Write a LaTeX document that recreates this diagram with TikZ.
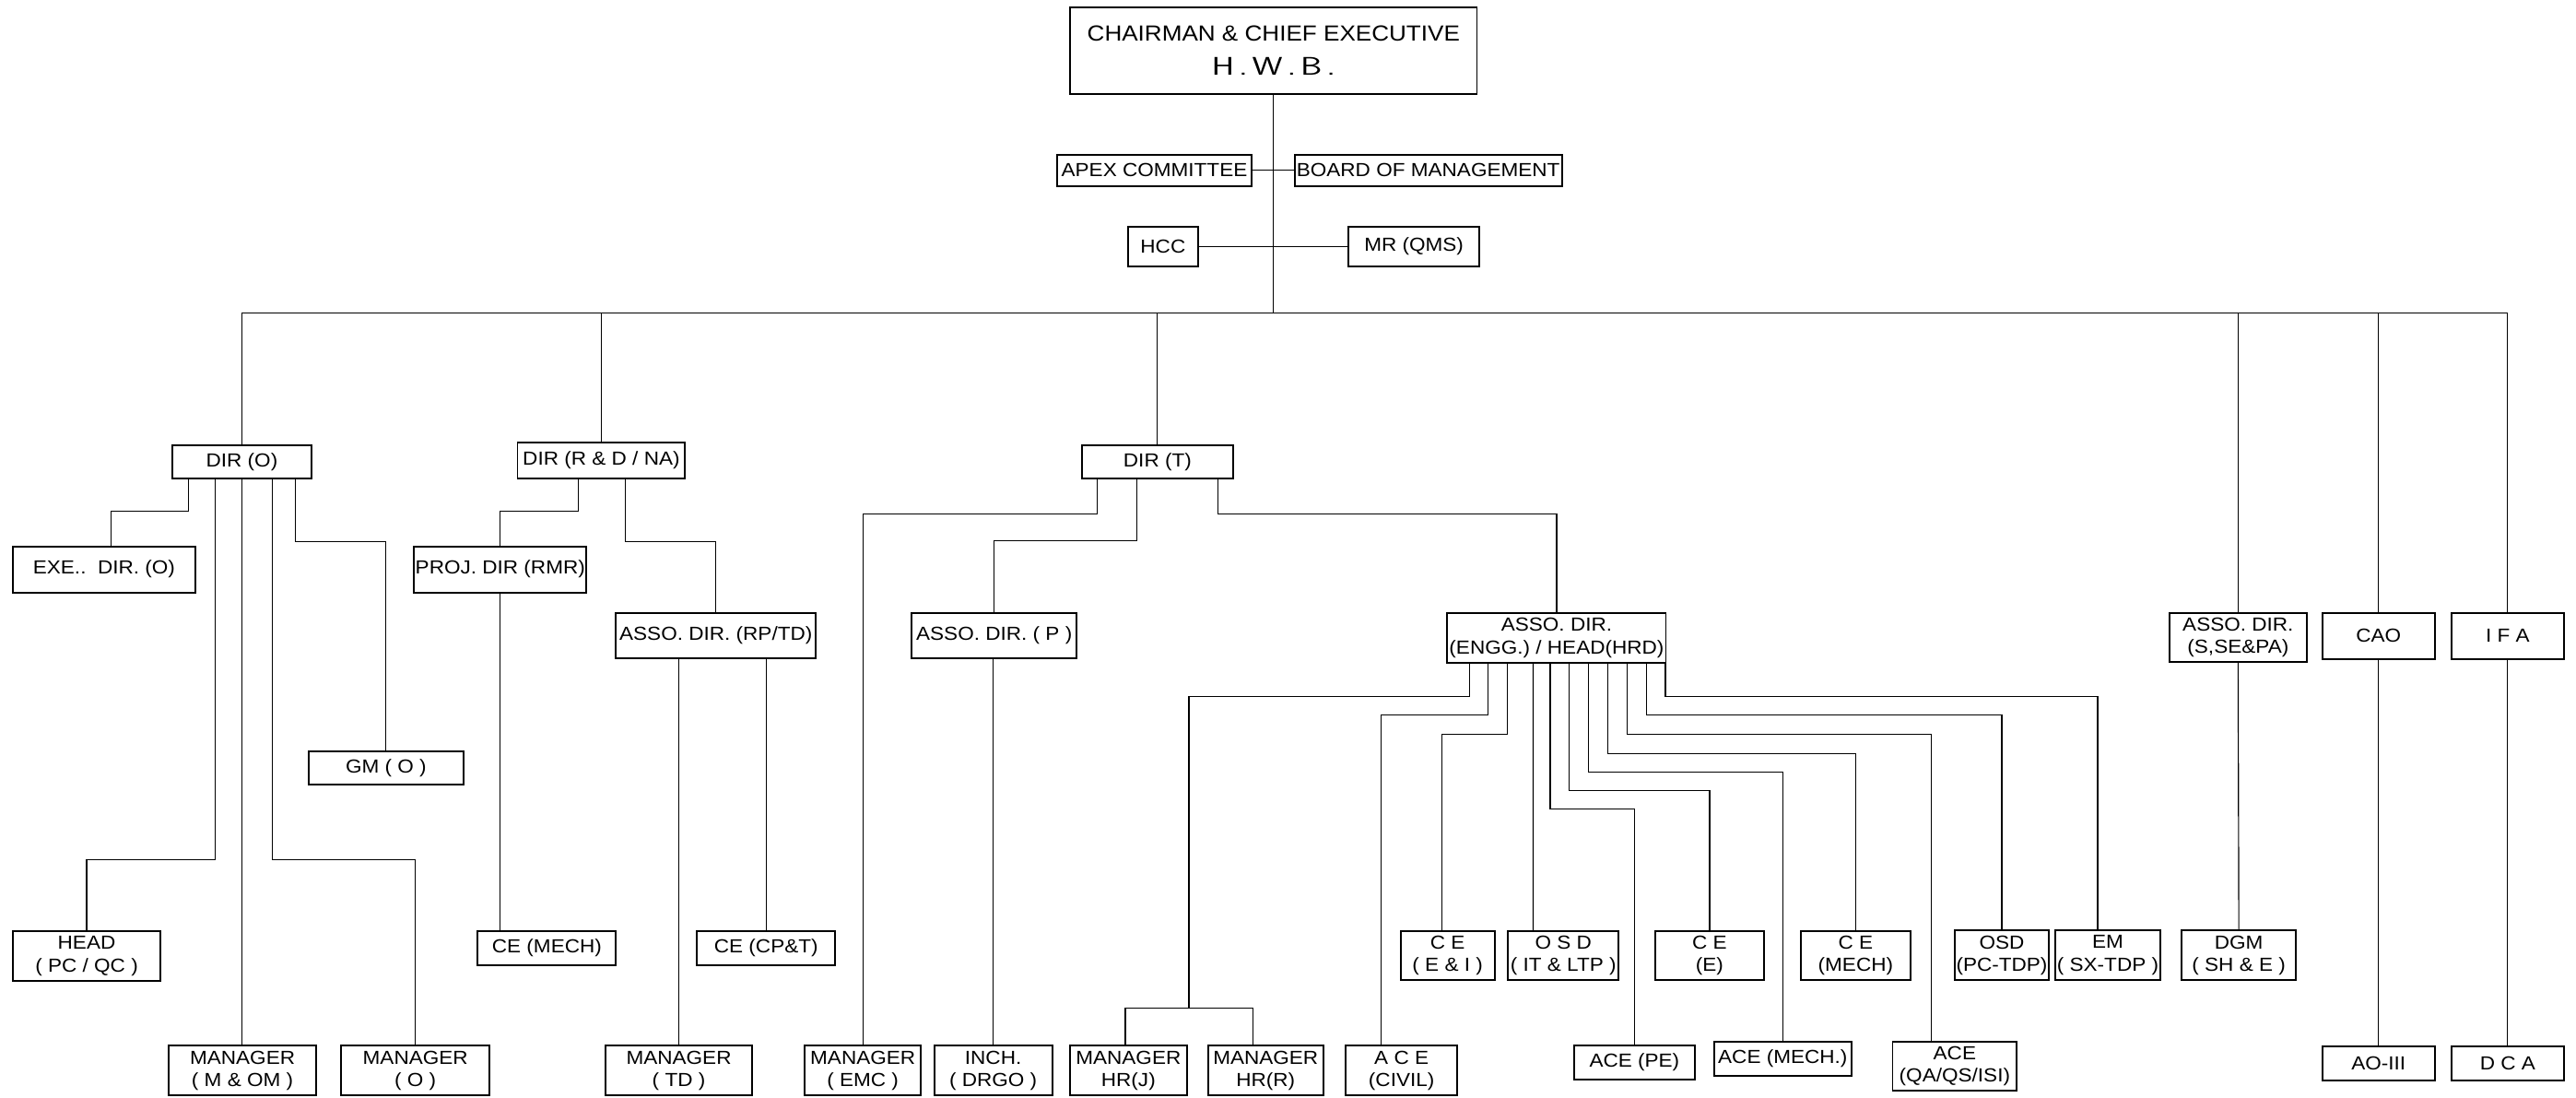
\documentclass[tikz,border=0pt]{standalone}
\usepackage{fontspec}
\usepackage{graphicx}
\setmainfont{Liberation Sans}[FakeStretch=1.1]
\usetikzlibrary{calc}
\newcommand\obx[6]{\node[ob,anchor=north west,minimum width={(#4-#2)*1bp},minimum height={(#5-#3)*1bp}] (#1) at (#2,#3) {#6};}
\tikzset{
  ob/.style={draw,line width=1.1bp,inner sep=0pt,outer sep=0pt,align=center,fill=white,
    font=\fontsize{11.5bp}{13.7bp}\selectfont},
  cn/.style={draw,line width=0.65bp}
}
\begin{document}
\begin{tikzpicture}[x=1bp,y=-1bp]
\fill[white] (0,0) rectangle (1568,668);
\useasboundingbox (0,0) rectangle (1568,668);
% top
\node[ob,anchor=north west,minimum width={(899-651.4)*1bp},minimum height={(57-4.7)*1bp},
  font=\fontsize{13.3bp}{20.6bp}\selectfont] (chair) at (651.4,4.7)
  {CHAIRMAN \& CHIEF EXECUTIVE\\{\sffamily\fontsize{15.5bp}{20.6bp}\selectfont\scalebox{1.35}[1]{H\hspace{2bp}.\hspace{2bp}W\hspace{2bp}.\hspace{2bp}B\hspace{2bp}.}}};
\obx{apex}{643.4}{94.1}{761.9}{113.1}{APEX COMMITTEE}
\obx{board}{788}{94.1}{950.7}{113.1}{BOARD OF MANAGEMENT}
\obx{hcc}{686.7}{137.8}{729.1}{162.1}{HCC}
\obx{mr}{820.8}{137.8}{900.5}{162.1}{MR (QMS)}
% level 2
\obx{dirO}{105}{270.8}{189.5}{291}{DIR (O)}
\obx{dirRD}{315}{269.3}{417}{291}{DIR (R \& D / NA)}
\obx{dirT}{658.7}{270.8}{750.4}{291}{DIR (T)}
\obx{assoS}{1320.6}{373}{1404}{402.9}{ASSO. DIR.\\(S,SE\&PA)}
\obx{cao}{1413.6}{373}{1482}{401}{CAO}
\obx{ifa}{1492.2}{373}{1560.6}{401}{I F A}
% level 3
\obx{exe}{7.7}{332.5}{119}{360.5}{EXE..\ \ DIR. (O)}
\obx{proj}{252}{332.5}{357}{360.5}{PROJ. DIR (RMR)}
\obx{assoRP}{375}{373}{496.5}{400.6}{ASSO. DIR. (RP/TD)}
\obx{assoP}{555}{373}{655.3}{400.6}{ASSO. DIR. ( P )}
\obx{assoE}{881}{373}{1014}{403.2}{ASSO. DIR.\\(ENGG.) / HEAD(HRD)}
\obx{gm}{188}{457}{282}{477.5}{GM ( O )}
% level 4
\obx{head}{7.9}{566.6}{97.6}{597}{HEAD\\( PC / QC )}
\obx{ceMech}{290.8}{566.6}{375}{587.2}{CE (MECH)}
\obx{ceCPT}{424.3}{566.6}{508.4}{587.2}{CE (CP\&T)}
\obx{ceEI}{852.5}{566.6}{909.8}{596.4}{C E\\( E \& I )}
\obx{osdIT}{918}{566.6}{985.2}{596.4}{O S D\\( IT \& LTP )}
\obx{ceE}{1007.5}{566.6}{1073.7}{596.4}{C E\\(E)}
\obx{ceM}{1096.2}{566.6}{1162.8}{596.4}{C E\\(MECH)}
\obx{osdPC}{1190}{566.3}{1247}{596.3}{OSD\\(PC-TDP)}
\obx{em}{1251}{566.3}{1315}{596.3}{EM\\( SX-TDP )}
\obx{dgm}{1327.8}{566.3}{1397.7}{596.3}{DGM\\( SH \& E )}
% level 5
\obx{mgrMOM}{102.8}{636.4}{192.4}{666.6}{MANAGER\\( M \& OM )}
\obx{mgrO}{207.8}{636.4}{297.9}{666.6}{MANAGER\\( O )}
\obx{mgrTD}{368.4}{636.4}{458}{666.6}{MANAGER\\( TD )}
\obx{mgrEMC}{490}{636.4}{560.4}{666.6}{MANAGER\\( EMC )}
\obx{inch}{568.7}{636.4}{640.4}{666.6}{INCH.\\( DRGO )}
\obx{hrJ}{651.4}{636.4}{722.3}{666.6}{MANAGER\\HR(J)}
\obx{hrR}{735.2}{636.4}{805.6}{666.6}{MANAGER\\HR(R)}
\obx{aceCivil}{819}{636.4}{887.2}{666.6}{A C E\\(CIVIL)}
\obx{acePE}{958}{636}{1031.7}{657}{ACE (PE)}
\obx{aceMech}{1043.3}{634}{1127}{654.5}{ACE (MECH.)}
\obx{aceQA}{1152}{633.7}{1227.6}{663.8}{ACE\\(QA/QS/ISI)}
\obx{ao}{1413.6}{636.8}{1482}{657.5}{AO-III}
\obx{dca}{1492.2}{636.8}{1560.6}{657.5}{D C A}
% top connectors
\coordinate (bus) at (0,190.4);
\draw[cn] (chair.south) -- (chair.south |- bus);
\draw[cn] (apex.east) -- (board.west);
\draw[cn] (hcc.east) -- (mr.west);
\draw[cn] (dirO.north) |- (ifa.north |- bus) -- (ifa.north);
\draw[cn] (dirRD.north) -- (dirRD.north |- bus);
\draw[cn] (dirT.north) -- (dirT.north |- bus);
\draw[cn] (assoS.north) -- (assoS.north |- bus);
\draw[cn] (cao.north) -- (cao.north |- bus);
% DIR (O)
\draw[cn] ([xshift=9.5bp]dirO.south west) |- ([xshift=59.8bp,yshift=21.5bp]exe.north west) -- ([xshift=59.8bp]exe.north west);
\draw[cn] ([xshift=26bp]dirO.south west) |- ([xshift=44.8bp,yshift=43.6bp]head.north west) -- ([xshift=44.8bp]head.north west);
\draw[cn] (dirO.south) -- (dirO.south |- mgrMOM.north);
\draw[cn] ([xshift=61bp]dirO.south west) |- ([yshift=113.4bp]mgrO.north) -- (mgrO.north);
\draw[cn] ([xshift=74.6bp]dirO.south west) |- ([yshift=127.5bp]gm.north) -- (gm.north);
% DIR (R&D)
\draw[cn] ([xshift=37bp]dirRD.south west) |- ([yshift=21.5bp]proj.north) -- (proj.north);
\draw[cn] ([xshift=65.4bp]dirRD.south west) |- ([yshift=43.5bp]assoRP.north) -- (assoRP.north);
\draw[cn] (proj.south) -- (proj.south |- ceMech.north);
\draw[cn] (mgrTD.north) -- (mgrTD.north |- assoRP.south);
\draw[cn] (ceCPT.north) -- (ceCPT.north |- assoRP.south);
% DIR (T)
\draw[cn] ([xshift=9.1bp]dirT.south west) |- ([yshift=323.8bp]mgrEMC.north) -- (mgrEMC.north);
\draw[cn] ([xshift=33.3bp]dirT.south west) |- ([yshift=44bp]assoP.north) -- (assoP.north);
\draw[cn] ([xshift=82.8bp]dirT.south west) |- ([yshift=60.4bp]assoE.north) -- (assoE.north);
\draw[cn] (inch.north) -- (inch.north |- assoP.south);
% ASSO DIR (ENGG)
\coordinate (hrs) at (723.7,613.6);
\draw[cn] ([xshift=13.3bp]assoE.south west) |- ([yshift=189.6bp]hrs) -- (hrs);
\draw[cn] ([xshift=33.6bp]hrJ.north west) |- ([xshift=27.5bp,yshift=22.8bp]hrR.north west) -- ([xshift=27.5bp]hrR.north west);
\draw[cn] ([xshift=24.9bp]assoE.south west) |- ([xshift=21.7bp,yshift=201.2bp]aceCivil.north west) -- ([xshift=21.7bp]aceCivil.north west);
\draw[cn] ([xshift=36.5bp]assoE.south west) |- ([xshift=25bp,yshift=120bp]ceEI.north west) -- ([xshift=25bp]ceEI.north west);
\draw[cn] ([xshift=52.2bp]assoE.south west) -- ([xshift=15.2bp]osdIT.north west);
\draw[cn] ([xshift=62.6bp]assoE.south west) |- ([yshift=143.6bp]acePE.north) -- (acePE.north);
\draw[cn] ([xshift=74.1bp]assoE.south west) |- ([yshift=85.4bp]ceE.north) -- (ceE.north);
\draw[cn] ([xshift=86.1bp]assoE.south west) |- ([yshift=164.2bp]aceMech.north) -- (aceMech.north);
\draw[cn] ([xshift=97.6bp]assoE.south west) |- ([yshift=108.2bp]ceM.north) -- (ceM.north);
\draw[cn] ([xshift=109.2bp]assoE.south west) |- ([xshift=23.4bp,yshift=187.1bp]aceQA.north west) -- ([xshift=23.4bp]aceQA.north west);
\draw[cn] ([xshift=121.1bp]assoE.south west) |- ([yshift=131.1bp]osdPC.north) -- (osdPC.north);
\draw[cn] ([xshift=132.7bp]assoE.south west) |- ([xshift=25.8bp,yshift=142.3bp]em.north west) -- ([xshift=25.8bp]em.north west);
% right columns
\draw[cn] (assoS.south) -- (dgm.north);
\draw[cn] (cao.south) -- (ao.north);
\draw[cn] (ifa.south) -- (dca.north);
\end{tikzpicture}
\end{document}
